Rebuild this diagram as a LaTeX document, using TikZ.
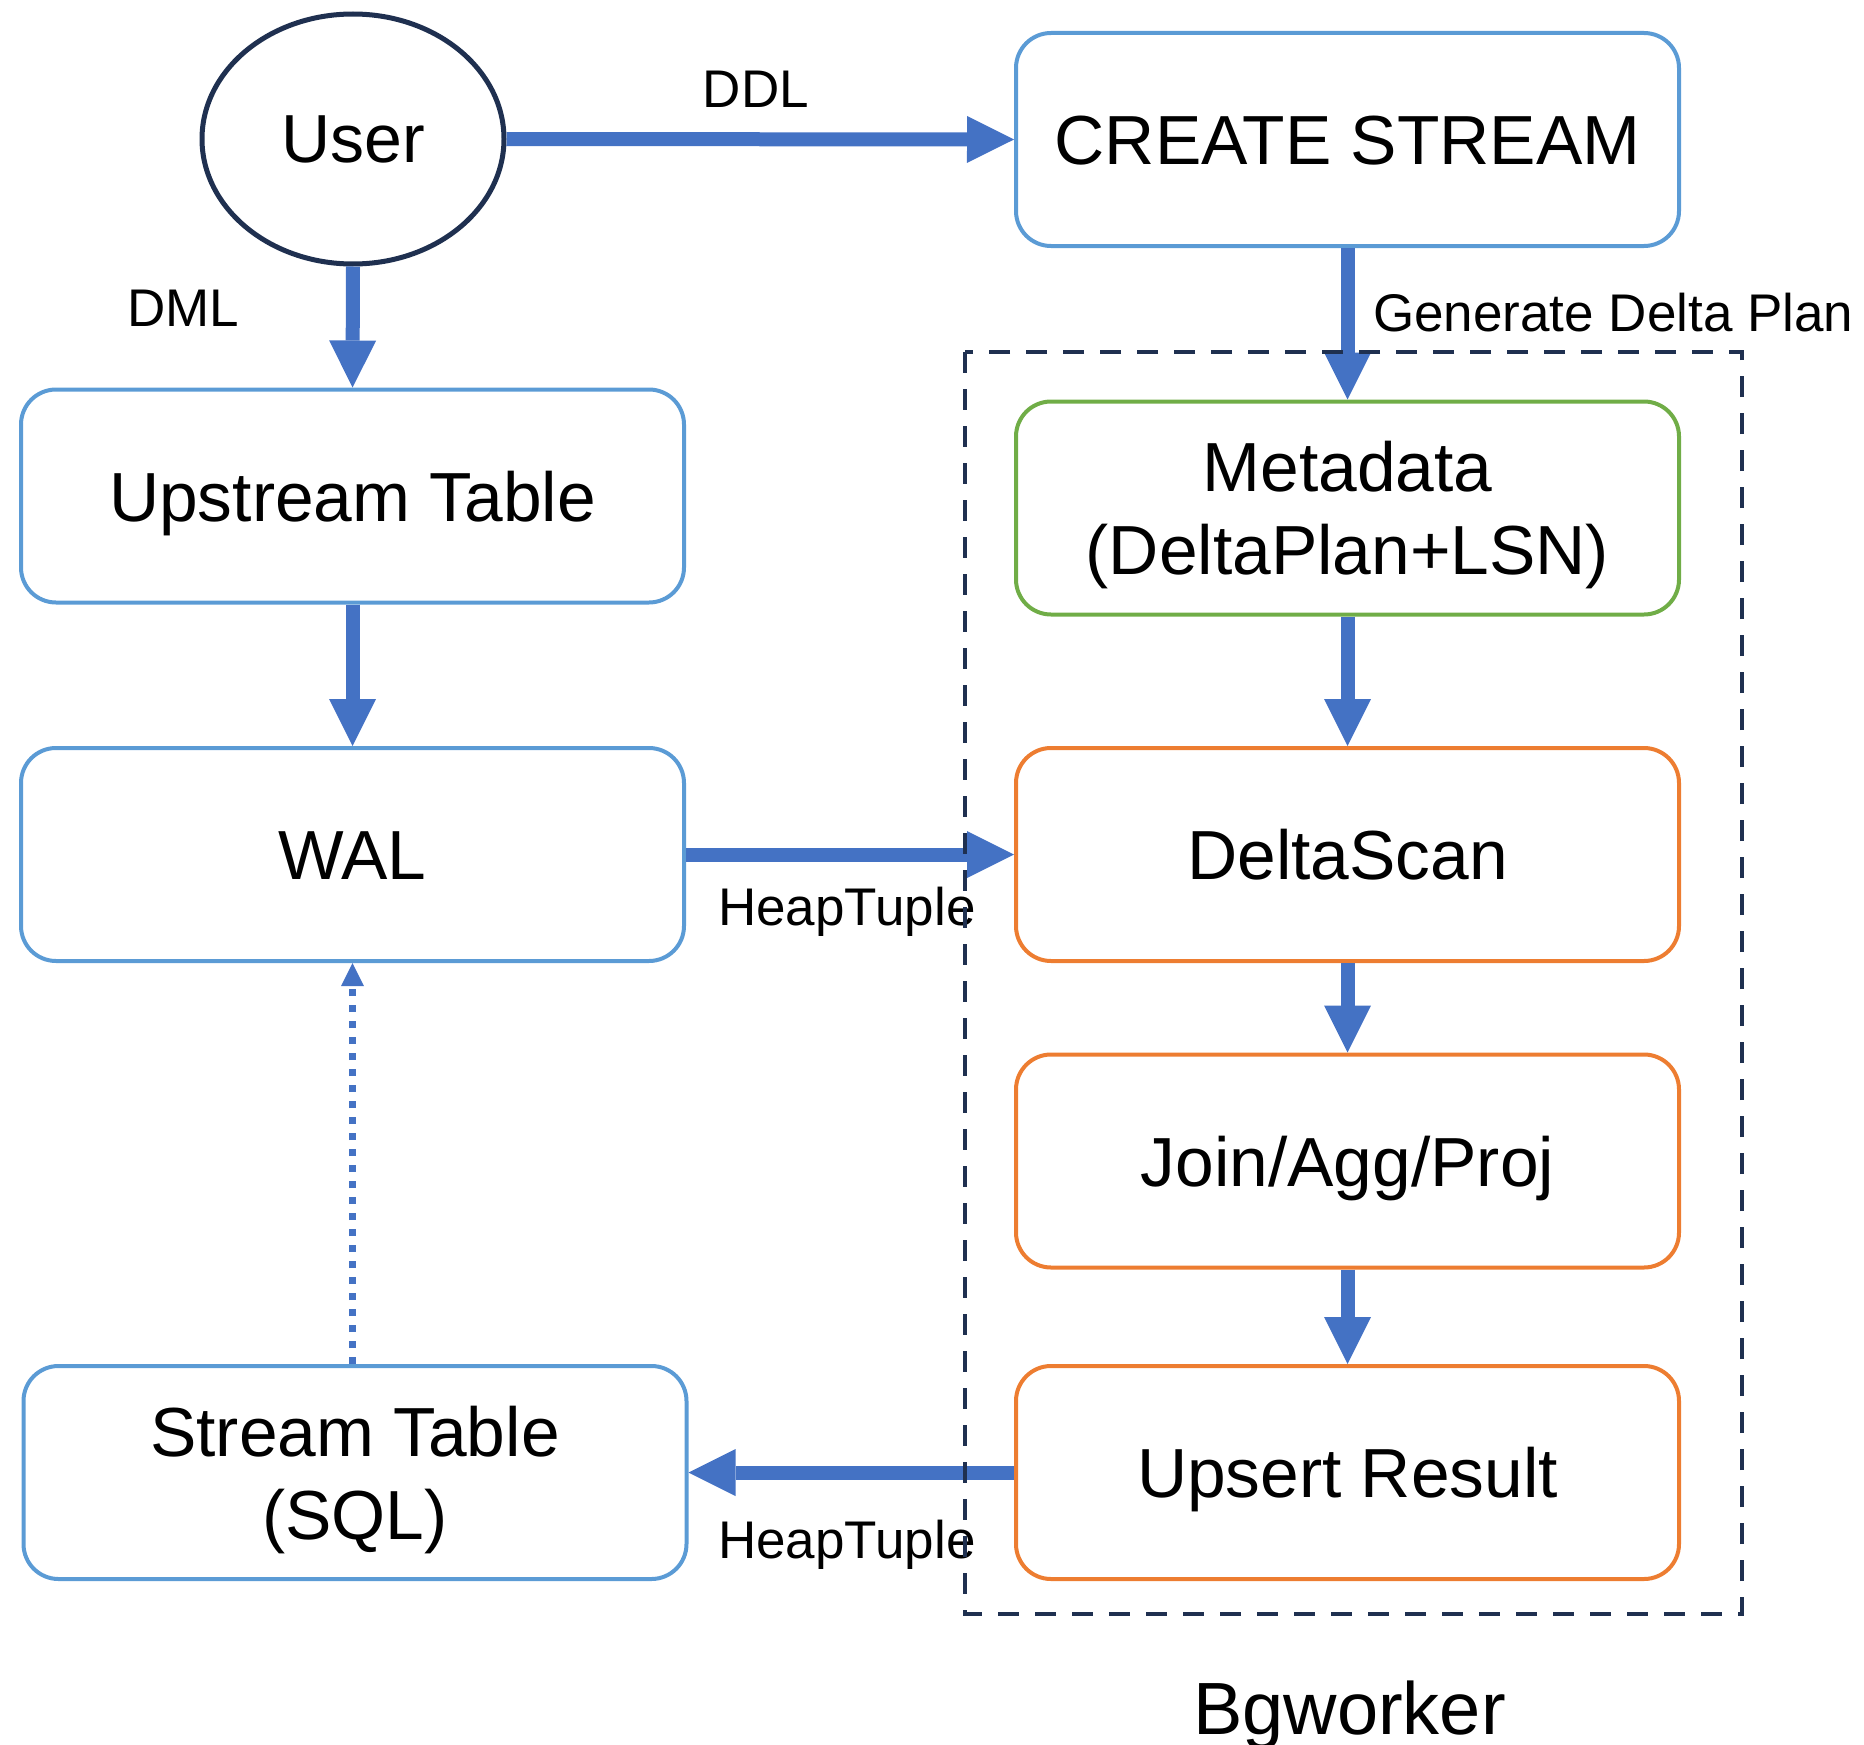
\documentclass[tikz,border=0pt]{standalone}
\usepackage{fontspec}
\setmainfont{Liberation Sans}
\usetikzlibrary{arrows.meta,shapes.geometric}
\definecolor{arrowblue}{HTML}{4472C4}
\definecolor{boxblue}{HTML}{5B9BD5}
\definecolor{boxgreen}{HTML}{70AD47}
\definecolor{boxorange}{HTML}{ED7D31}
\definecolor{navy}{HTML}{1F3050}
\begin{document}
\begin{tikzpicture}[x=1pt,y=-1pt,
  box/.style={rectangle,rounded corners=35pt,line width=4pt,minimum width=663pt,minimum height=213pt,inner sep=0pt,align=center,font=\fontsize{69.5}{83}\selectfont,text height=50pt,text depth=0pt},
  twoline/.style={text height=133pt,text depth=0pt},
  bluebox/.style={box,draw=boxblue},
  greenbox/.style={box,draw=boxgreen},
  orangebox/.style={box,draw=boxorange},
  flow/.style={draw=arrowblue,line width=14pt,-{Triangle[length=47pt,width=47pt,line width=0pt]}},
  dotflow/.style={draw=arrowblue,line width=7pt,dash pattern=on 7pt off 9pt,-{Triangle[length=23pt,width=23pt,line width=0pt]}},
  lbl/.style={font=\fontsize{53}{63}\selectfont,inner sep=0pt}]
\useasboundingbox (0,0) rectangle (1864,1745);
% nodes
\node[ellipse,draw=navy,line width=5pt,minimum width=302pt,minimum height=250pt,inner sep=0pt,font=\fontsize{68}{82}\selectfont] (user) at (353,139) {User};
\node[bluebox] (create) at (1347.5,139.5) {CREATE STREAM};
\node[bluebox] (upstream) at (352.5,496) {Upstream Table};
\node[bluebox] (wal) at (352.5,854.5) {WAL};
\node[bluebox,twoline] (stream) at (355,1472.5) {Stream Table\\(SQL)};
\node[greenbox,twoline] (meta) at (1347.5,508) {Metadata\\(DeltaPlan+LSN)};
\node[orangebox] (scan) at (1347.5,854.5) {DeltaScan};
\node[orangebox] (join) at (1347.5,1161) {Join/Agg/Proj};
\node[orangebox] (upsert) at (1347.5,1472.5) {Upsert Result};
% connectors
\draw[flow] (user.east) -- (create.west);
\draw[flow] (user.south) -- (upstream.north);
\draw[flow] (upstream.south) -- (wal.north);
\draw[flow] (create.south) -- (meta.north);
\draw[flow] (meta.south) -- (scan.north);
\draw[flow] (scan.south) -- (join.north);
\draw[flow] (join.south) -- (upsert.north);
\draw[flow] (wal.east) -- (scan.west);
\draw[flow] (upsert.west) -- (stream.east);
\draw[dotflow] (stream.north -| wal.south) -- (wal.south);
% labels
\node[lbl] (lddl) at (756,89) {DDL};
\node[lbl] (ldml) at (183,308) {DML};
\node[lbl,anchor=west] (lgen) at (1373,313) {Generate Delta Plan};
\node[lbl,anchor=west] (lheap1) at (718,912) {HeapTuple};
\node[lbl,anchor=west] (lheap2) at (718,1545) {HeapTuple};
% bgworker region
\draw[navy,line width=4pt,dash pattern=on 21pt off 16pt] (965,352) rectangle (1742,1614);
\node[font=\fontsize{74}{88}\selectfont,inner sep=0pt,anchor=base] (lbg) at (1349.5,1734) {Bgworker};
\end{tikzpicture}
\end{document}
